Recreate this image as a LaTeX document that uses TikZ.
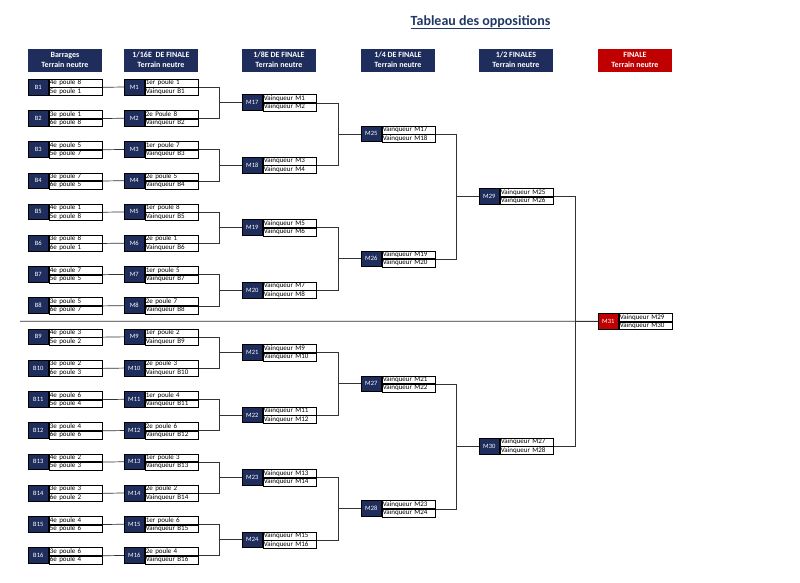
\documentclass[tikz,border=0pt]{standalone}
\usepackage{fontspec}
\setmainfont{Carlito}
\usepackage{tikz}
\usetikzlibrary{positioning}
\definecolor{navy}{HTML}{1F2D5C}
\definecolor{finred}{HTML}{C00000}
\definecolor{titleblue}{HTML}{1F3864}
\tikzset{
	dark/.style = {fill = navy, draw = black, line width = 0.6pt, text = white, minimum width = 20pt, minimum height = 15.7pt, inner sep = 0pt, anchor = west, font = \fontsize{6.5}{7}\selectfont},
	row/.style = {draw = black, line width = 0.6pt, fill = white, minimum height = 7.85pt, text width = 51.5pt, inner xsep = 1pt, inner ysep = 0pt, text height = 5pt, text depth = 1.6pt, align = left, font = \fontsize{7}{8}\selectfont},
	head/.style = {text = white, minimum width = 73.5pt, minimum height = 23.4pt, inner sep = 0pt, anchor = north west, align = center, font = \fontsize{8}{10}\selectfont\bfseries},
	link/.style = {draw = black!80, line width = 0.7pt}
}
\begin{document}
\begin{tikzpicture}[x = 1pt, y = -1pt]
		\useasboundingbox (0,0) rectangle (800,582);
		\node[anchor = base, text = titleblue, font = \fontsize{14}{16}\selectfont\bfseries] at (480.5,25) (title) {\underline{Tableau des oppositions}};
		% en-tetes
		\foreach \x/\lab/\nm/\col in {28/{Barrages\\Terrain neutre}/hbar/navy, 124/{1/16E\ \ DE FINALE\\Terrain neutre}/hsei/navy, 242/{1/8E DE FINALE\\Terrain neutre}/hhui/navy, 361/{1/4 DE FINALE\\Terrain neutre}/hqua/navy, 479/{1/2 FINALES\\Terrain neutre}/hdem/navy, 598/{FINALE\\Terrain neutre}/hfin/finred}
			\node[head, fill = \col] at (\x,48.3) (\nm) {\lab};
		% barrages et 1/16e
		\foreach \i/\ta/\tb/\tc in {1/4e poule 8/5e poule 1/1er poule 1, 2/3e poule 1/6e poule 8/2e Poule 8, 3/4e poule 5/5e poule 7/1er poule 7, 4/3e poule 7/6e poule 5/2e poule 5, 5/4e poule 1/5e poule 8/1er poule 8, 6/3e poule 8/6e poule 1/2e poule 1, 7/4e poule 7/5e poule 5/1er poule 5, 8/3e poule 5/6e poule 7/2e poule 7, 9/4e poule 3/5e poule 2/1er poule 2, 10/3e poule 2/6e poule 3/2e poule 3, 11/4e poule 6/5e poule 4/1er poule 4, 12/3e poule 4/6e poule 6/2e poule 6, 13/4e poule 2/5e poule 3/1er poule 3, 14/3e poule 3/6e poule 2/2e poule 2, 15/4e poule 4/5e poule 6/1er poule 6, 16/3e poule 6/6e poule 4/2e poule 4} {
			\pgfmathsetmacro\yy{87+(\i-1)*31.23}
			\node[dark] at (28,\yy) (B\i) {B\i};
			\node[row, below right = 0pt and 0pt of B\i.north east] (B\i-a) {\ta};
			\node[row, below = 0pt of B\i-a] (B\i-b) {\tb};
			\node[dark] at (124,\yy) (M\i) {M\i};
			\node[row, below right = 0pt and 0pt of M\i.north east] (M\i-a) {\tc};
			\node[row, below = 0pt of M\i-a] (M\i-b) {Vainqueur B\i};
			\draw[link] (B\i-a.south east) to (M\i.west);
		}
		% separation
		\coordinate (sepL) at (20,321.2);
		% tours suivants
		\foreach \x/\base/\prev/\cnt/\stp/\col in {242/16/0/8/2/navy, 361/24/16/4/4/navy, 479/28/24/2/8/navy, 598/30/28/1/16/finred} {
			\foreach \k in {1,...,\cnt} {
				\pgfmathsetmacro\yy{87+(\stp*\k-(\stp+1)/2)*31.23}
				\pgfmathtruncatemacro\m{\base+\k}
				\pgfmathtruncatemacro\p{\prev+2*\k-1}
				\pgfmathtruncatemacro\q{\prev+2*\k}
				\node[dark, fill = \col] at (\x,\yy) (M\m) {M\m};
				\node[row, below right = 0pt and 0pt of M\m.north east] (M\m-a) {Vainqueur M\p};
				\node[row, below = 0pt of M\m-a] (M\m-b) {Vainqueur M\q};
				\coordinate (J\m) at ([xshift = -22.5pt]M\m.west);
				\draw[link] (M\p-a.south east) -| (J\m) |- (M\q-a.south east);
				\draw[link] (J\m) to (M\m.west);
			}
		}
		\draw[link] (sepL) to (M31.west);
	\end{tikzpicture}
\end{document}
